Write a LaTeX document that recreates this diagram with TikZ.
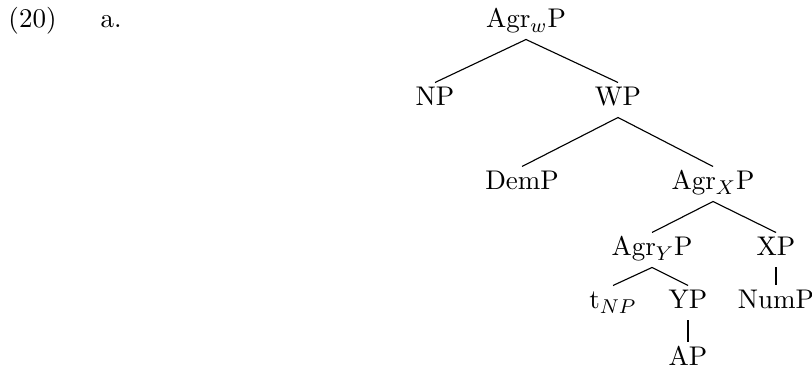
\documentclass[tikz,border=0pt]{standalone}
\begin{document}
\begin{tikzpicture}[x=0.4pt,y=-0.4pt,
  lbl/.style={anchor=base,inner xsep=0pt,inner ysep=1.8pt,text height=7.4pt,text depth=2.6pt,font=\fontsize{10.8}{13}\selectfont},
  plain/.style={anchor=base west,inner sep=0pt,font=\fontsize{10.8}{13}\selectfont},
  edge/.style={line width=0.45pt}]
\useasboundingbox (0,0) rectangle (812,371);
\node[plain] (num) at (8,28) {(20)};
\node[plain] (sub) at (100,28) {a.};
\node[lbl] (agrw) at (526,28) {Agr$_w$P};
\node[lbl] (np) at (435,106) {NP};
\node[lbl] (wp) at (618,106) {WP};
\node[lbl] (dem) at (522,190) {DemP};
\node[lbl] (agrx) at (713,190) {Agr$_X$P};
\node[lbl] (agry) at (652,256) {Agr$_Y$P};
\node[lbl] (xp) at (776,256) {XP};
\node[lbl] (t) at (613,309) {t$_{NP}$};
\node[lbl] (yp) at (688,309) {YP};
\node[lbl] (nump) at (776,309) {NumP};
\node[lbl] (ap) at (688,366) {AP};
\draw[edge] (agrw.south) -- (np.north);
\draw[edge] (agrw.south) -- (wp.north);
\draw[edge] (wp.south) -- (dem.north);
\draw[edge] (wp.south) -- (agrx.north);
\draw[edge] (agrx.south) -- (agry.north);
\draw[edge] (agrx.south) -- (xp.north);
\draw[edge] (agry.south) -- (t.north);
\draw[edge] (agry.south) -- (yp.north);
\draw[edge] (xp.south) -- (nump.north);
\draw[edge] (yp.south) -- (ap.north);
\end{tikzpicture}
\end{document}
